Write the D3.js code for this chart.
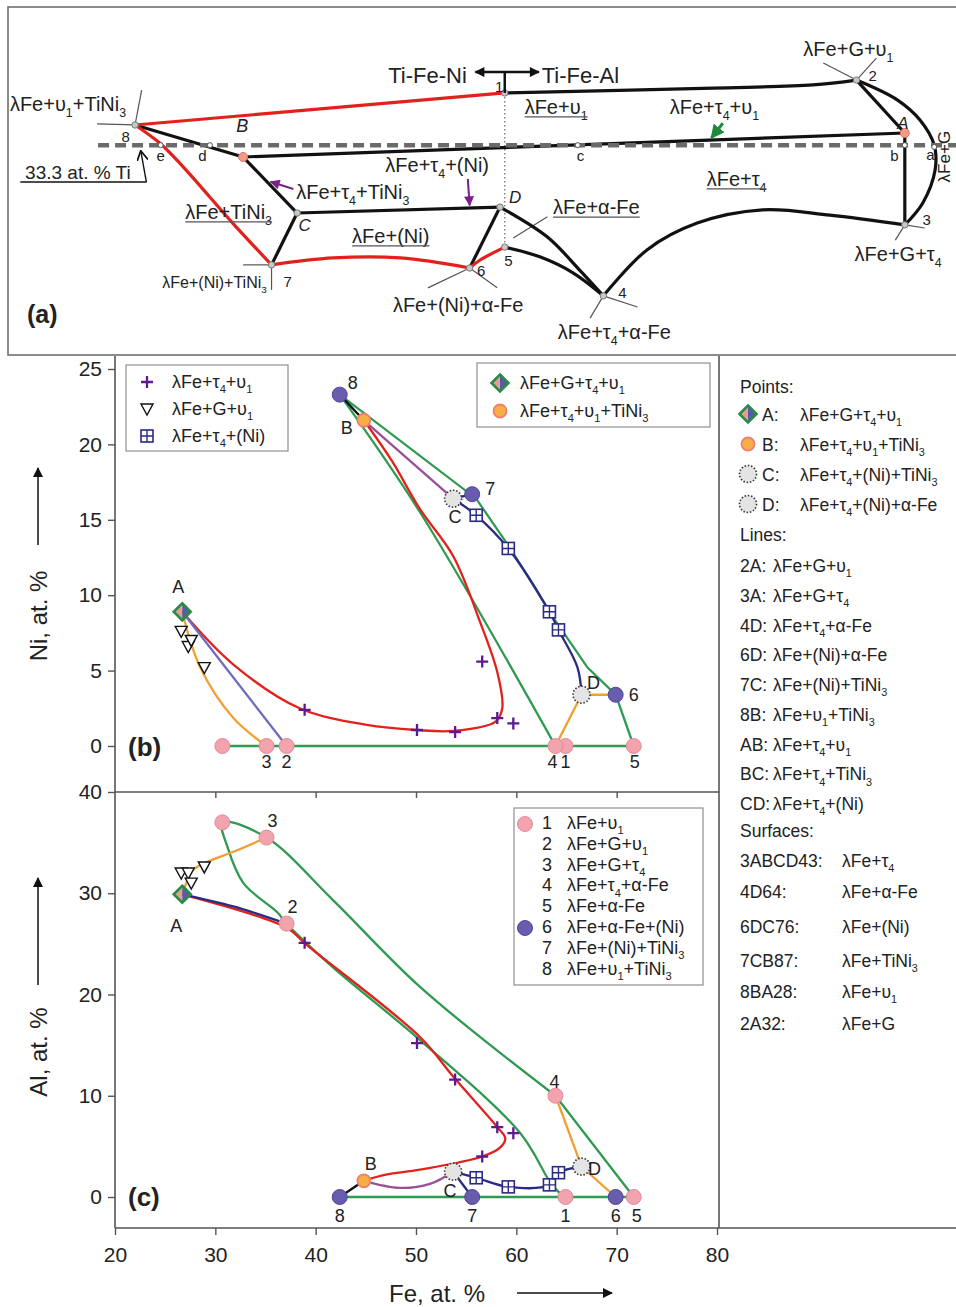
<!DOCTYPE html>
<html>
<head>
<meta charset="utf-8">
<script src="https://cdnjs.cloudflare.com/ajax/libs/d3/7.8.5/d3.min.js"></script>
<style>
  body { margin: 0; background: #fff; }
  svg { font-family: "Liberation Sans", Arial, sans-serif; }
</style>
</head>
<body>
<svg id="chart" width="956" height="1307"></svg>
<script>
// ---------- data ----------
// invariant points 1..8 and the unnumbered binary point
const invLabels = ["1", "2", "3", "4", "5", "6", "7", "8", ""];
const invFe = [64.9, 37.1, 35.1, 63.9, 71.7, 69.9, 55.6, 42.4, 30.7];
const invNi = [0, 0, 0, 0, 0, 3.4, 16.7, 23.3, 0];
const invAl = [0, 27.0, 35.5, 10.0, 0, 0, 0, 0, 37.0];

// four-phase points
const quadLabels = ["A", "B", "C", "D"];
const quadFe = [26.7, 44.8, 53.7, 66.5];
const quadNi = [8.9, 21.6, 16.4, 3.4];
const quadAl = [29.9, 1.6, 2.5, 3.0];

// experimental three-phase alloys
const triFe = [26.6, 27.3, 27.6, 28.9];   // λFe+G+υ1
const triNi = [7.6, 6.6, 7.0, 5.2];
const triAl = [32.0, 32.0, 31.0, 32.6];
const plusFe = [38.9, 50.1, 53.9, 56.6, 58.1, 59.7];   // λFe+τ4+υ1
const plusNi = [2.4, 1.06, 0.93, 5.6, 1.85, 1.5];
const plusAl = [25.1, 15.2, 11.6, 4.0, 6.9, 6.3];
const sqFe = [56.0, 59.2, 63.3, 64.2];   // λFe+τ4+(Ni)
const sqNi = [15.3, 13.1, 8.9, 7.7];
const sqAl = [1.9, 1.0, 1.2, 2.4];

// panel (b) curves, [Fe, Ni]
const bGreenOuter = [[42.4,23.3],[56.0,16.4],[59.4,13.1],[63.7,8.5],[67.1,5.2],[69.9,3.4],[71.7,0]];
const bGreenInner = [[42.4,23.3],[50.4,15.5],[63.9,0]];
const bGreenBase = [[30.7,0],[71.7,0]];
const bRed = [[44.8,21.6],[47.6,18.9],[50.4,15.7],[53.7,12.6],[56.4,8.2],[58.1,4.9],[58.6,2.5],[57.9,1.6],[53.7,1.0],[50.1,1.06],[45.1,1.4],[38.4,2.5],[31.8,5.4],[26.7,8.9]];
const bBC = [[44.8,21.6],[53.7,16.4]];
const bC7 = [[53.7,16.4],[55.6,16.7]];
const bCD = [[53.7,16.4],[56.0,15.3],[59.2,13.1],[63.3,8.9],[64.2,7.7],[66.1,5.2],[66.5,3.4]];
const bD6 = [[66.5,3.4],[69.9,3.4]];
const bD4 = [[66.5,3.4],[63.9,0]];
const bA3 = [[26.7,8.9],[28.5,5.2],[31.8,1.85],[35.1,0]];
const bA2 = [[26.7,8.9],[37.1,0]];
const b8B = [[42.4,23.3],[44.8,21.6]];

// panel (c) curves, [Fe, Al]
const cGreen45 = [[63.9,10.0],[71.7,0]];
const cGreenLoop = [[63.9,10.0],[50.4,20.75],[41.7,29.35],[35.1,35.5],[30.7,37.0],[31.2,34.6],[32.8,31.0],[36.2,28.1],[37.1,27.0],[41.7,22.7],[50.4,15.5],[60.4,6.3],[63.7,1.0],[64.9,0]];
const cGreenBase = [[42.4,0],[71.7,0]];
const cRed = [[26.7,29.9],[37.1,26.6],[39.1,24.9],[50.4,15.8],[53.7,11.9],[58.1,6.9],[58.9,5.8],[58.4,4.9],[56.6,4.0],[50.4,2.7],[47.0,2.2],[44.8,1.6]];
const cA2 = [[26.7,29.9],[31.8,28.7],[37.1,27.0]];
const cA3 = [[26.7,29.9],[27.8,32.3],[29.2,33.1],[31.8,34.1],[35.1,35.5]];
const c4D = [[63.9,10.0],[66.5,3.0]];
const cD6 = [[66.5,3.0],[69.9,0]];
const cCD = [[53.7,2.5],[56.0,1.9],[59.2,1.0],[63.3,1.2],[64.2,2.4],[66.5,3.0]];
const cC7 = [[53.7,2.5],[55.6,0]];
const cBC = [[44.8,1.6],[48.4,0.9],[51.4,1.3],[53.7,2.5]];
const c8B = [[42.4,0],[44.8,1.6]];

// axis ticks
const feTicks = [20, 30, 40, 50, 60, 70, 80];
const niTicks = [0, 5, 10, 15, 20, 25];
const alTicks = [0, 10, 20, 30, 40];

// panel (a) schematic nodes, in 0-100 sketch units
const sNode = {
  "1": [52.4, 24.7], "2": [89.5, 21.0], "3": [94.6, 62.6], "4": [62.8, 83.0],
  "5": [52.4, 69.0], "6": [48.7, 75.0], "7": [27.8, 74.1], "8": [13.4, 33.9],
  "A": [94.6, 36.2], "B": [24.8, 43.1], "C": [30.5, 59.2], "D": [51.9, 57.5],
  "a": [97.7, 40.2], "b": [94.6, 39.7], "c": [60.1, 39.7], "d": [21.3, 39.7], "e": [16.1, 39.7]
};
const sRed = [
  [[13.4,33.9],[52.4,24.7]],
  [[13.4,33.9],[16.0,39.1],[18.5,46.0],[23.7,62.1],[27.8,74.1]],
  [[27.8,74.1],[34.3,72.1],[41.4,72.1],[48.7,75.0]],
  [[48.7,75.0],[49.8,72.7],[52.4,69.0]]
];
const sBlack = [
  [[52.4,24.7],[74.4,23.3],[84.9,22.4],[89.5,21.0]],
  [[89.5,21.0],[94.6,36.2]],
  [[89.5,21.0],[93.8,26.7],[96.2,32.5],[97.7,39.7],[97.8,46.8],[96.5,56.3],[94.6,62.6]],
  [[94.6,36.2],[94.6,62.6]],
  [[94.6,36.2],[24.8,43.1]],
  [[13.4,33.9],[24.8,43.1]],
  [[24.8,43.1],[30.5,59.2]],
  [[30.5,59.2],[27.8,74.1]],
  [[30.5,59.2],[51.9,57.5]],
  [[51.9,57.5],[48.7,75.0]],
  [[51.9,57.5],[56.9,66.1],[60.3,75.6],[62.8,83.0]],
  [[52.4,69.0],[56.1,71.8],[59.6,76.4],[62.8,83.0]],
  [[62.8,83.0],[67.4,69.8],[72.7,62.1],[79.6,58.3],[86.7,59.8],[94.6,62.6]]
];
const sTies = [
  [[9.4,33.6],[13.4,33.9]], [[13.4,33.9],[14.1,23.9]],
  [[86.0,16.1],[89.5,21.0]], [[89.5,21.0],[91.6,14.7]],
  [[94.6,62.6],[96.7,63.5]], [[94.6,62.6],[93.6,67.0]],
  [[62.8,83.0],[66.4,86.2]], [[62.8,83.0],[61.4,89.4]],
  [[48.7,75.0],[44.3,80.7]], [[48.7,75.0],[51.6,80.7]],
  [[24.8,74.1],[27.8,74.1]], [[27.8,74.1],[27.8,81.3]],
  [[53.3,66.4],[56.9,60.3]]
];

// ---------- helpers ----------
const svg = d3.select('#chart');
const GREEN = '#2f9a50', RED = '#e3211c', NAVY = '#2b2a85', ORANGE = '#f0a033',
      MAUVE = '#9b4f96', SLATE = '#6e6cc0', INK = '#222';

// "_x" in a string makes x a subscript
function rich(t, str, fs) {
  const parts = str.split(/(_.)/).filter(s => s.length);
  let low = false;
  parts.forEach(p => {
    if (p[0] === '_' && p.length === 2) {
      t.append('tspan').attr('dy', low ? 0 : fs * 0.3).attr('font-size', fs * 0.62).text(p[1]);
      low = true;
    } else {
      t.append('tspan').attr('dy', low ? -fs * 0.3 : 0).text(p);
      low = false;
    }
  });
  return t;
}
function label(g, str, px, py, opt = {}) {
  const fs = opt.size || 18;
  const t = g.append('text')
    .attr('x', px).attr('y', py)
    .attr('font-size', fs)
    .attr('text-anchor', opt.anchor || 'start')
    .attr('fill', opt.color || INK);
  if (opt.italic) t.attr('font-style', 'italic');
  if (opt.bold) t.attr('font-weight', 'bold');
  if (opt.transform) t.attr('transform', opt.transform);
  rich(t, str, fs);
  if (opt.underline) {
    const bb = t.node().getBBox();
    g.append('line').attr('x1', bb.x).attr('x2', bb.x + bb.width)
      .attr('y1', py + 3).attr('y2', py + 3)
      .attr('stroke', '#555').attr('stroke-width', 1.3);
  }
  return t;
}
function marker(g, kind, cx, cy) {
  if (kind === 'pink') {
    g.append('circle').attr('cx', cx).attr('cy', cy).attr('r', 7.5)
      .attr('fill', '#f2a3ad').attr('stroke', '#e4899a');
  } else if (kind === 'navy') {
    g.append('circle').attr('cx', cx).attr('cy', cy).attr('r', 7.5)
      .attr('fill', '#675cad').attr('stroke', '#4f4798');
  } else if (kind === 'orange') {
    g.append('circle').attr('cx', cx).attr('cy', cy).attr('r', 6.5)
      .attr('fill', '#f7ae45').attr('stroke', '#ef7f72').attr('stroke-width', 1.8);
  } else if (kind === 'dotted') {
    g.append('circle').attr('cx', cx).attr('cy', cy).attr('r', 8.5)
      .attr('fill', '#e4e4e4').attr('stroke', '#333').attr('stroke-width', 1.6)
      .attr('stroke-dasharray', '1.5,1.8');
  } else if (kind === 'diamond') {
    const s = 8.5;
    g.append('path').attr('d', `M${cx},${cy-s}L${cx-s},${cy}L${cx},${cy+s}Z`).attr('fill', '#e2a190');
    g.append('path').attr('d', `M${cx},${cy-s}L${cx+s},${cy}L${cx},${cy+s}Z`).attr('fill', '#5a5aa6');
    g.append('path').attr('d', `M${cx},${cy-s}L${cx+s},${cy}L${cx},${cy+s}L${cx-s},${cy}Z`)
      .attr('fill', 'none').attr('stroke', '#2a8a48').attr('stroke-width', 2.6);
  } else if (kind === 'tri') {
    g.append('path').attr('d', `M${cx-6},${cy-5}L${cx+6},${cy-5}L${cx},${cy+6}Z`)
      .attr('fill', '#fff').attr('stroke', '#111').attr('stroke-width', 1.4);
  } else if (kind === 'plus') {
    g.append('path').attr('d', `M${cx-6},${cy}H${cx+6}M${cx},${cy-6}V${cy+6}`)
      .attr('stroke', '#5c1a8e').attr('stroke-width', 2.3);
  } else if (kind === 'sq') {
    g.append('rect').attr('x', cx - 6).attr('y', cy - 6).attr('width', 12).attr('height', 12)
      .attr('fill', '#fff').attr('stroke', NAVY).attr('stroke-width', 1.6);
    g.append('path').attr('d', `M${cx-6},${cy}H${cx+6}M${cx},${cy-6}V${cy+6}`)
      .attr('stroke', NAVY).attr('stroke-width', 1.4);
  }
}

const defs = svg.append('defs');
function arrowHead(id, color, w, h) {
  defs.append('marker').attr('id', id)
    .attr('viewBox', '0 0 10 10').attr('refX', 9).attr('refY', 5)
    .attr('markerUnits', 'userSpaceOnUse')
    .attr('markerWidth', w).attr('markerHeight', h)
    .attr('orient', 'auto-start-reverse')
    .append('path').attr('d', 'M0,0L10,5L0,10z').attr('fill', color);
}
arrowHead('ah-black', '#111', 12, 10);
arrowHead('ah-green', '#1f8a3a', 14, 14);
arrowHead('ah-purple', '#7a1f8c', 11, 10);
defs.append('marker').attr('id', 'ah-open')
  .attr('viewBox', '0 0 10 10').attr('refX', 9).attr('refY', 5)
  .attr('markerUnits', 'userSpaceOnUse').attr('markerWidth', 11).attr('markerHeight', 11)
  .attr('orient', 'auto')
  .append('path').attr('d', 'M0,0L9,5L0,10').attr('fill', 'none').attr('stroke', '#111').attr('stroke-width', 1.6);

// ---------- panel (a): schematic ----------
const xa = d3.scaleLinear().domain([0, 100]).range([8, 956]);
const ya = d3.scaleLinear().domain([0, 100]).range([7, 355]);
const ga = svg.append('g');
const sLine = d3.line().x(d => xa(d[0])).y(d => ya(d[1])).curve(d3.curveCatmullRom.alpha(0.5));

ga.append('rect').attr('x', 8).attr('y', 7).attr('width', 960).attr('height', 348)
  .attr('fill', 'none').attr('stroke', '#666').attr('stroke-width', 1.5);

ga.selectAll('.tie').data(sTies).enter().append('path')
  .attr('d', sLine).attr('fill', 'none').attr('stroke', '#555').attr('stroke-width', 1.2);

// dotted boundary Ti-Fe-Ni / Ti-Fe-Al
ga.append('path').attr('d', sLine([sNode["1"], sNode["5"]]))
  .attr('stroke', '#777').attr('stroke-width', 1.3).attr('stroke-dasharray', '1.5,2.5');

ga.selectAll('.blk').data(sBlack).enter().append('path')
  .attr('d', sLine).attr('fill', 'none').attr('stroke', '#111').attr('stroke-width', 3.2);
ga.selectAll('.red').data(sRed).enter().append('path')
  .attr('d', sLine).attr('fill', 'none').attr('stroke', RED).attr('stroke-width', 3.2);

// 33.3 at.% Ti section
ga.append('line').attr('x1', xa(9.5)).attr('x2', xa(100)).attr('y1', ya(39.7)).attr('y2', ya(39.7))
  .attr('stroke', '#6a6a6a').attr('stroke-width', 4.5).attr('stroke-dasharray', '11,6');

// nodes
['1','2','3','4','5','6','7','8','C','D'].forEach(k => {
  ga.append('circle').attr('cx', xa(sNode[k][0])).attr('cy', ya(sNode[k][1])).attr('r', 3.2)
    .attr('fill', '#c8c8c8').attr('stroke', '#777').attr('stroke-width', 1);
});
['A','B'].forEach(k => {
  ga.append('circle').attr('cx', xa(sNode[k][0])).attr('cy', ya(sNode[k][1])).attr('r', 4.5)
    .attr('fill', '#f29c86').attr('stroke', '#e07060').attr('stroke-width', 1);
});
['a','b','c','d','e'].forEach(k => {
  ga.append('circle').attr('cx', xa(sNode[k][0])).attr('cy', ya(sNode[k][1])).attr('r', 2.5)
    .attr('fill', '#fff').attr('stroke', '#555').attr('stroke-width', 1);
});

// arrows
ga.append('path').attr('d', sLine([[52.4,24.7],[52.4,18.7]])).attr('stroke', '#111').attr('stroke-width', 2.5);
ga.append('path').attr('d', sLine([[49.3,18.7],[56.0,18.7]])).attr('stroke', '#111').attr('stroke-width', 2.5)
  .attr('marker-start', 'url(#ah-black)').attr('marker-end', 'url(#ah-black)');
ga.append('path').attr('d', sLine([[1.3,50.3],[14.6,50.3]])).attr('stroke', '#111').attr('stroke-width', 1.4);
ga.append('path').attr('d', sLine([[14.6,50.3],[14.0,41.3]])).attr('stroke', '#111').attr('stroke-width', 1.4)
  .attr('fill', 'none').attr('marker-end', 'url(#ah-open)');
ga.append('path').attr('d', sLine([[75.4,33.4],[74.2,37.6]])).attr('stroke', '#1f8a3a').attr('stroke-width', 3)
  .attr('marker-end', 'url(#ah-green)');
ga.append('path').attr('d', sLine([[30.1,52.3],[27.7,50.2]])).attr('stroke', '#7a1f8c').attr('stroke-width', 2)
  .attr('marker-end', 'url(#ah-purple)');
ga.append('path').attr('d', sLine([[48.5,49.4],[48.7,57.0]])).attr('stroke', '#7a1f8c').attr('stroke-width', 2)
  .attr('marker-end', 'url(#ah-purple)');

// schematic annotations: text, u, v, options
const aLabels = [
  ["Ti-Fe-Ni", 48.4, 21.8, {anchor: 'end', size: 22}],
  ["Ti-Fe-Al", 56.3, 21.8, {size: 22}],
  ["λFe+υ_1+TiNi_3", 0.2, 29.9, {size: 20}],
  ["8", 12.4, 38.8, {anchor: 'middle', size: 15}],
  ["B", 24.7, 35.9, {anchor: 'middle', size: 18, italic: true}],
  ["e", 16.1, 44.3, {anchor: 'middle', size: 15}],
  ["d", 20.5, 44.3, {anchor: 'middle', size: 15}],
  ["33.3 at. % Ti", 1.8, 49.4, {size: 19}],
  ["λFe+υ_1", 54.5, 30.7, {size: 20, underline: true}],
  ["λFe+τ_4+υ_1", 69.8, 30.7, {size: 20}],
  ["A", 94.4, 35.1, {anchor: 'middle', size: 17, italic: true}],
  ["c", 60.4, 44.3, {anchor: 'middle', size: 15}],
  ["b", 93.5, 44.3, {anchor: 'middle', size: 15}],
  ["a", 97.3, 44.0, {anchor: 'middle', size: 15}],
  ["λFe+G+υ_1", 83.9, 14.1, {size: 20}],
  ["2", 91.2, 21.3, {anchor: 'middle', size: 15}],
  ["1", 51.8, 24.4, {anchor: 'middle', size: 15}],
  ["λFe+τ_4+(Ni)", 39.8, 47.4, {size: 20}],
  ["λFe+τ_4+TiNi_3", 30.4, 55.2, {size: 20}],
  ["λFe+TiNi_3", 18.7, 60.9, {size: 20, underline: true}],
  ["C", 31.3, 64.4, {anchor: 'middle', size: 17, italic: true}],
  ["λFe+(Ni)", 36.3, 67.8, {size: 20, underline: true}],
  ["λFe+(Ni)+TiNi_3", 27.3, 80.7, {anchor: 'end', size: 16}],
  ["7", 29.5, 80.5, {anchor: 'middle', size: 15}],
  ["(a)", 2.0, 90.8, {size: 25, bold: true}],
  ["λFe+(Ni)+α-Fe", 40.6, 87.6, {size: 20}],
  ["D", 53.5, 56.3, {anchor: 'middle', size: 17, italic: true}],
  ["λFe+α-Fe", 57.5, 59.5, {size: 20, underline: true}],
  ["5", 52.8, 74.4, {anchor: 'middle', size: 15}],
  ["6", 49.9, 77.3, {anchor: 'middle', size: 15}],
  ["4", 64.8, 83.6, {anchor: 'middle', size: 15}],
  ["λFe+τ_4+α-Fe", 58.0, 95.4, {size: 20}],
  ["λFe+τ_4", 73.7, 51.4, {size: 20, underline: true}],
  ["λFe+G+τ_4", 89.3, 73.0, {size: 20}],
  ["3", 96.9, 62.6, {anchor: 'middle', size: 15}]
];
aLabels.forEach(d => label(ga, d[0], xa(d[1]), ya(d[2]), d[3]));
label(ga, "λFe+G", 0, 0, {anchor: 'middle', size: 17,
  transform: `translate(${xa(99.4)},${ya(43.0)}) rotate(-90)`});

// ---------- panels (b) and (c) ----------
const x = d3.scaleLinear().domain([20, 80]).range([115, 717]);
const yB = d3.scaleLinear().domain([0, 25]).range([746, 369]);
const yC = d3.scaleLinear().domain([0, 40]).range([1197, 792]);

const frame = svg.append('g').attr('stroke', '#555').attr('stroke-width', 1.6);
frame.append('line').attr('x1', 115).attr('x2', 115).attr('y1', 356).attr('y2', 1228);
frame.append('line').attr('x1', 115).attr('x2', 960).attr('y1', 1228).attr('y2', 1228);
frame.append('line').attr('x1', 115).attr('x2', 719).attr('y1', 792).attr('y2', 792);
frame.append('line').attr('x1', 719).attr('x2', 719).attr('y1', 356).attr('y2', 1228);

function styleAxis(sel) {
  sel.select('.domain').remove();
  sel.selectAll('.tick line').attr('stroke', '#555').attr('stroke-width', 1.4);
  sel.selectAll('.tick text').attr('fill', INK).attr('font-family', '"Liberation Sans", Arial, sans-serif')
    .attr('font-size', 21);
}
svg.append('g').attr('transform', 'translate(115,0)')
  .call(d3.axisLeft(yB).tickValues(niTicks).tickSize(7).tickPadding(6)).call(styleAxis);
svg.append('g').attr('transform', 'translate(115,0)')
  .call(d3.axisLeft(yC).tickValues(alTicks).tickSize(7).tickPadding(6)).call(styleAxis);
svg.append('g').attr('transform', 'translate(0,1228)')
  .call(d3.axisBottom(x).tickValues(feTicks).tickSize(7).tickPadding(12)).call(styleAxis);
svg.append('g').attr('transform', 'translate(0,792)')
  .call(d3.axisBottom(x).tickValues(feTicks.slice(1, -1)).tickSize(6).tickFormat(''))
  .call(styleAxis);

// axis titles with arrows
label(svg, "Ni, at. %", 0, 0, {anchor: 'middle', size: 24, transform: 'translate(47,616) rotate(-90)'});
label(svg, "Al, at. %", 0, 0, {anchor: 'middle', size: 24, transform: 'translate(47,1052) rotate(-90)'});
label(svg, "Fe, at. %", 437, 1302, {anchor: 'middle', size: 24});
[[38, 545, 38, 468], [38, 985, 38, 878], [517, 1293, 612, 1293]].forEach(a => {
  svg.append('line').attr('x1', a[0]).attr('y1', a[1]).attr('x2', a[2]).attr('y2', a[3])
    .attr('stroke', '#111').attr('stroke-width', 1.5).attr('marker-end', 'url(#ah-black)');
});

function drawPanel(yS, vals, curves, offs) {
  const g = svg.append('g');
  const lineS = d3.line().x(d => x(d[0])).y(d => yS(d[1]));
  curves.forEach(c => {
    g.append('path').attr('d', lineS.curve(c[2] ? d3.curveLinear : d3.curveCatmullRom.alpha(0.5))(c[0]))
      .attr('fill', 'none').attr('stroke', c[1]).attr('stroke-width', 2.3);
  });
  // experimental points
  triFe.forEach((f, i) => marker(g, 'tri', x(f), yS(vals.tri[i])));
  plusFe.forEach((f, i) => marker(g, 'plus', x(f), yS(vals.plus[i])));
  sqFe.forEach((f, i) => marker(g, 'sq', x(f), yS(vals.sq[i])));
  // invariant points
  invFe.forEach((f, i) => {
    const kind = ["6", "7", "8"].includes(invLabels[i]) ? 'navy' : 'pink';
    marker(g, kind, x(f), yS(vals.inv[i]));
  });
  const quadKind = ['diamond', 'orange', 'dotted', 'dotted'];
  quadFe.forEach((f, i) => marker(g, quadKind[i], x(f), yS(vals.quad[i])));
  // point labels
  invLabels.forEach((l, i) => {
    if (!l) return;
    const o = offs[l];
    label(g, l, x(invFe[i]) + o[0], yS(vals.inv[i]) + o[1], {anchor: 'middle', size: 18});
  });
  quadLabels.forEach((l, i) => {
    const o = offs[l];
    label(g, l, x(quadFe[i]) + o[0], yS(vals.quad[i]) + o[1], {anchor: 'middle', size: 18});
  });
  return g;
}

const gb = drawPanel(yB, {tri: triNi, plus: plusNi, sq: sqNi, inv: invNi, quad: quadNi}, [
  [bGreenBase, GREEN, true], [bGreenOuter, GREEN, true], [bGreenInner, GREEN],
  [bRed, RED], [bBC, MAUVE, true], [bC7, NAVY, true], [bCD, NAVY],
  [bD6, ORANGE, true], [bD4, ORANGE, true], [bA3, ORANGE], [bA2, SLATE, true], [b8B, '#111', true]
], {
  "1": [0, 22], "2": [0, 22], "3": [0, 22], "4": [-3, 22], "5": [1, 22],
  "6": [18, 6], "7": [18, 1], "8": [13, -6],
  "A": [-4, -19], "B": [-17, 14], "C": [2, 24], "D": [12, -6]
});
label(gb, "(b)", 128, 756, {size: 26, bold: true});

const gc = drawPanel(yC, {tri: triAl, plus: plusAl, sq: sqAl, inv: invAl, quad: quadAl}, [
  [cGreenBase, GREEN, true], [cGreen45, GREEN, true], [cGreenLoop, GREEN],
  [cRed, RED], [cA2, NAVY], [cA3, ORANGE], [c4D, ORANGE, true], [cD6, ORANGE, true],
  [cBC, MAUVE], [cCD, NAVY], [cC7, NAVY, true], [c8B, '#111', true]
], {
  "1": [0, 25], "2": [6, -11], "3": [6, -11], "4": [-1, -8], "5": [3, 25],
  "6": [0, 25], "7": [0, 25], "8": [0, 25],
  "A": [-6, 38], "B": [7, -11], "C": [-3, 25], "D": [13, 8]
});
label(gc, "(c)", 128, 1206, {size: 26, bold: true});

// ---------- legends ----------
const lb = svg.append('g');
lb.append('rect').attr('x', 126).attr('y', 365).attr('width', 162).attr('height', 86)
  .attr('fill', '#fff').attr('stroke', '#999').attr('stroke-width', 1.3);
[['plus', "λFe+τ_4+υ_1"], ['tri', "λFe+G+υ_1"], ['sq', "λFe+τ_4+(Ni)"]].forEach((d, i) => {
  marker(lb, d[0], 147, 382 + i * 27);
  label(lb, d[1], 172, 388 + i * 27, {size: 18});
});
lb.append('rect').attr('x', 477).attr('y', 363).attr('width', 233).attr('height', 64)
  .attr('fill', '#fff').attr('stroke', '#999').attr('stroke-width', 1.3);
[['diamond', "λFe+G+τ_4+υ_1"], ['orange', "λFe+τ_4+υ_1+TiNi_3"]].forEach((d, i) => {
  marker(lb, d[0], 500, 383 + i * 28);
  label(lb, d[1], 520, 389 + i * 28, {size: 18});
});

const invNames = ["λFe+υ_1", "λFe+G+υ_1", "λFe+G+τ_4", "λFe+τ_4+α-Fe", "λFe+α-Fe",
  "λFe+α-Fe+(Ni)", "λFe+(Ni)+TiNi_3", "λFe+υ_1+TiNi_3"];
const lc = svg.append('g');
lc.append('rect').attr('x', 514).attr('y', 808).attr('width', 189).attr('height', 177)
  .attr('fill', '#fff').attr('stroke', '#999').attr('stroke-width', 1.3);
invNames.forEach((n, i) => {
  const yy = 829 + i * 20.8;
  if (i === 0) marker(lc, 'pink', 525, yy - 5);
  if (i === 5) marker(lc, 'navy', 525, yy - 5);
  label(lc, invLabels[i], 547, yy, {anchor: 'middle', size: 18});
  label(lc, n, 567, yy, {size: 18});
});

// right-hand key
const rk = svg.append('g');
const pointNames = ["λFe+G+τ_4+υ_1", "λFe+τ_4+υ_1+TiNi_3", "λFe+τ_4+(Ni)+TiNi_3", "λFe+τ_4+(Ni)+α-Fe"];
const lineKeys = ["2A", "3A", "4D", "6D", "7C", "8B", "AB", "BC", "CD"];
const lineNames = ["λFe+G+υ_1", "λFe+G+τ_4", "λFe+τ_4+α-Fe", "λFe+(Ni)+α-Fe", "λFe+(Ni)+TiNi_3",
  "λFe+υ_1+TiNi_3", "λFe+τ_4+υ_1", "λFe+τ_4+TiNi_3", "λFe+τ_4+(Ni)"];
const surfKeys = ["3ABCD43", "4D64", "6DC76", "7CB87", "8BA28", "2A32"];
const surfNames = ["λFe+τ_4", "λFe+α-Fe", "λFe+(Ni)", "λFe+TiNi_3", "λFe+υ_1", "λFe+G"];
const surfY = [867, 898, 933, 967, 998, 1030];
const RK = 17.5;

label(rk, "Points:", 740, 393, {size: RK});
['diamond', 'orange', 'dotted', 'dotted'].forEach((k, i) => {
  const yy = 421 + i * 30;
  marker(rk, k, 748, yy - 7);
  label(rk, quadLabels[i] + ":", 762, yy, {size: RK});
  label(rk, pointNames[i], 800, yy, {size: RK});
});
label(rk, "Lines:", 740, 541, {size: RK});
lineKeys.forEach((k, i) => {
  const yy = 572 + i * 29.75;
  label(rk, k + ":", 740, yy, {size: RK});
  label(rk, lineNames[i], 773, yy, {size: RK});
});
label(rk, "Surfaces:", 740, 837, {size: RK});
surfKeys.forEach((k, i) => {
  label(rk, k + ":", 740, surfY[i], {size: RK});
  label(rk, surfNames[i], 842, surfY[i], {size: RK});
});
</script>
</body>
</html>
